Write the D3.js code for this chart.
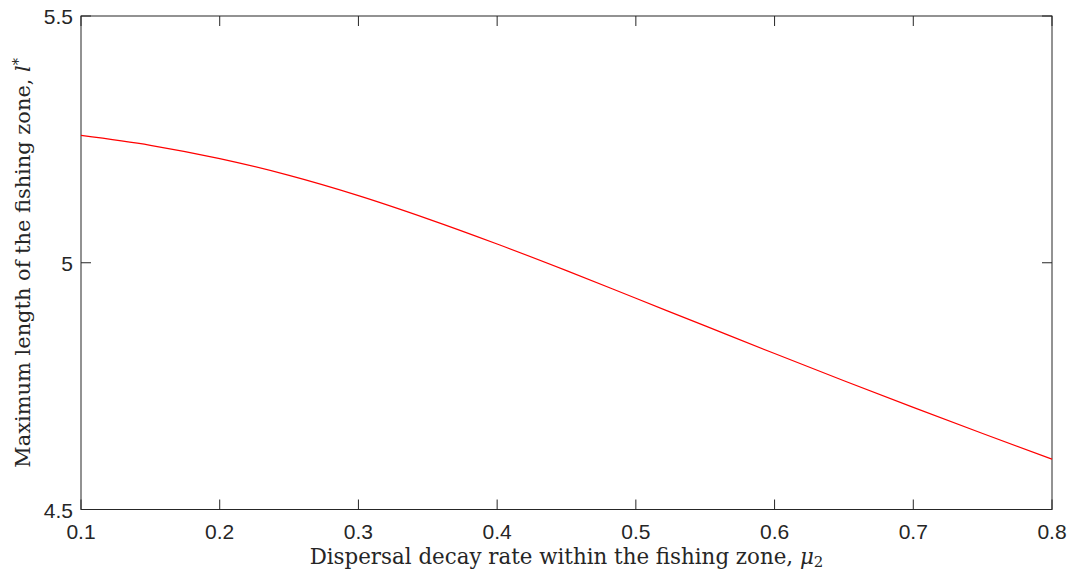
<!DOCTYPE html>
<html><head><meta charset="utf-8">
<script src="https://cdn.jsdelivr.net/npm/d3@7/dist/d3.min.js"></script>
<style>
body{margin:0;background:#fff;}
svg{display:block;}
</style></head>
<body><svg id="c" width="1079" height="573"></svg>
<script>
const mu2 = [0.10,0.15,0.20,0.25,0.30,0.35,0.40,0.45,0.50,0.55,0.60,0.65,0.70,0.75,0.80];
const lStar = [5.258,5.238,5.211,5.177,5.136,5.089,5.038,4.984,4.928,4.872,4.816,4.761,4.707,4.654,4.602];
const xTicks = [0.1,0.2,0.3,0.4,0.5,0.6,0.7,0.8];
const yTicks = [4.5,5,5.5];
const xLabelText = "Dispersal decay rate within the fishing zone, ";
const yLabelText = "Maximum length of the fishing zone, ";

const svg = d3.select("#c");
const L=81,R=1052,T=16,B=509.5;
const x = d3.scaleLinear().domain([0.1,0.8]).range([L,R]);
const y = d3.scaleLinear().domain([4.5,5.5]).range([B,T]);
const axisColor="#262626";
const tickFont="'Liberation Sans', Arial, sans-serif";
const serif="'DejaVu Serif','Liberation Serif',serif";

svg.append("rect").attr("x",L).attr("y",T).attr("width",R-L).attr("height",B-T)
  .attr("fill","none").attr("stroke",axisColor).attr("stroke-width",1);

const tl=10;
const gx=svg.append("g");
xTicks.forEach(v=>{
  gx.append("line").attr("x1",x(v)).attr("x2",x(v)).attr("y1",B).attr("y2",B-tl).attr("stroke",axisColor);
  gx.append("line").attr("x1",x(v)).attr("x2",x(v)).attr("y1",T).attr("y2",T+tl).attr("stroke",axisColor);
  gx.append("text").attr("x",x(v)).attr("y",539).attr("text-anchor","middle")
    .attr("font-family",tickFont).attr("font-size",21).attr("fill",axisColor).text(d3.format(".1f")(v));
});
const gy=svg.append("g");
yTicks.forEach(v=>{
  gy.append("line").attr("x1",L).attr("x2",L+tl).attr("y1",y(v)).attr("y2",y(v)).attr("stroke",axisColor);
  gy.append("line").attr("x1",R).attr("x2",R-tl).attr("y1",y(v)).attr("y2",y(v)).attr("stroke",axisColor);
  gy.append("text").attr("x",73).attr("y",y(v)+8).attr("text-anchor","end")
    .attr("font-family",tickFont).attr("font-size",21).attr("fill",axisColor).text(v===5?"5":d3.format(".1f")(v));
});

const line=d3.line().x((d,i)=>x(mu2[i])).y(d=>y(d)).curve(d3.curveMonotoneX);
svg.append("path").datum(lStar).attr("d",line).attr("fill","none").attr("stroke","#ff0000").attr("stroke-width",1.2);

function fit(textSel, target){
  const fs=+textSel.attr("font-size");
  const w=textSel.node().getComputedTextLength();
  textSel.attr("font-size",fs*target/w);
}

const xl=svg.append("text").attr("x",(L+R)/2).attr("y",564).attr("text-anchor","middle")
  .attr("font-family",serif).attr("font-size",20).attr("fill","#262626");
xl.append("tspan").text(xLabelText);
xl.append("tspan").attr("font-style","italic").text("μ");
xl.append("tspan").attr("font-size","0.7em").attr("dy","0.2em").text("2");
fit(xl,514);

const yl=svg.append("text").attr("transform",`translate(30,${(T+B)/2}) rotate(-90)`).attr("text-anchor","middle")
  .attr("font-family",serif).attr("font-size",20).attr("fill","#262626");
yl.append("tspan").text(yLabelText);
yl.append("tspan").attr("font-style","italic").text("l");
yl.append("tspan").attr("font-size","0.7em").attr("dy","-0.45em").text("*");
fit(yl,410);
</script></body></html>
